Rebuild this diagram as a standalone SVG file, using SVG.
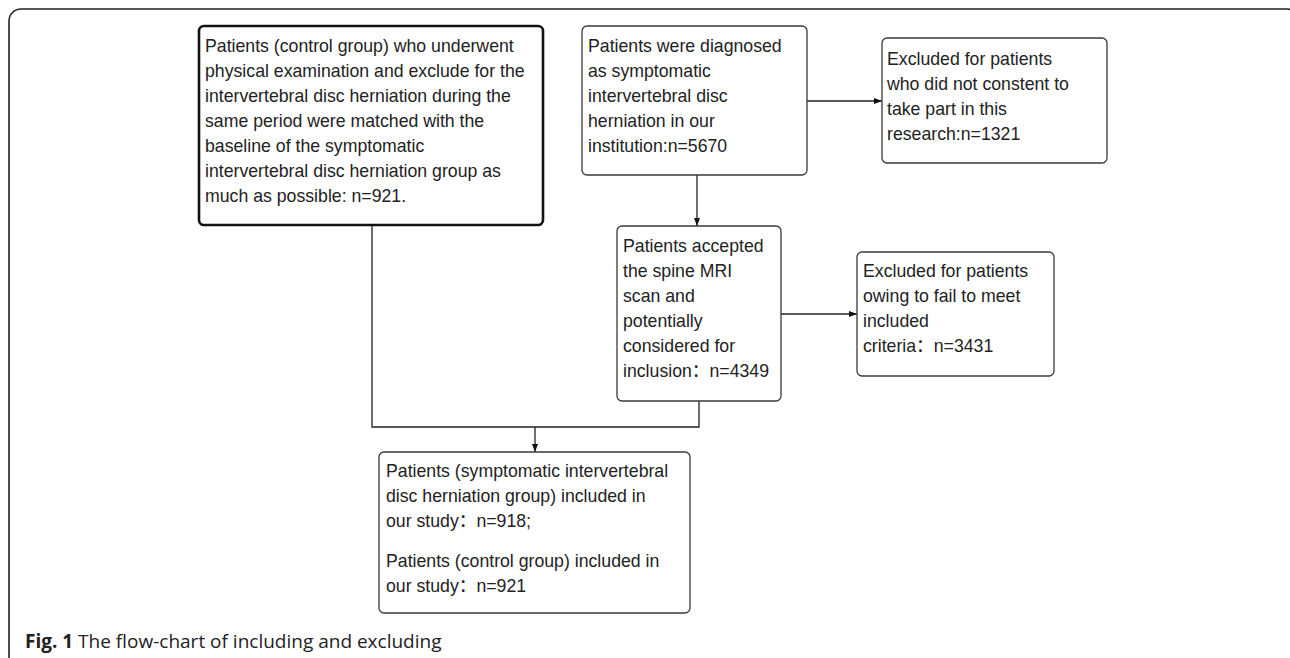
<svg xmlns="http://www.w3.org/2000/svg" width="1290" height="658" viewBox="0 0 1290 658">
<style>
.box{fill:#fff;stroke:#3a3a3a;stroke-width:1.3}
.thick{fill:#fff;stroke:#111;stroke-width:2.6}
.t{font-family:"Liberation Sans","Noto Sans CJK SC",Arial,sans-serif;font-size:17.7px;fill:#222}
.c{fill:none;stroke:#222;stroke-width:1.3}
.cap{font-family:"Open Sans","Noto Sans",sans-serif;font-size:19px;fill:#222}
</style>
<defs>
<marker id="ah" markerWidth="8" markerHeight="6" refX="8" refY="3" orient="auto" markerUnits="userSpaceOnUse">
<path d="M0,0 L8,3 L0,6 Z" fill="#111"/>
</marker>
</defs>
<rect x="9" y="9" width="1290" height="700" rx="12" fill="none" stroke="#222" stroke-width="1.6"/>
<g id="connectors">
<path class="c" d="M372,225 V427 H699 V401"/>
<path class="c" d="M535,427 V452" marker-end="url(#ah)"/>
<path class="c" d="M697,175 V226" marker-end="url(#ah)"/>
<path class="c" d="M807,101 H882" marker-end="url(#ah)"/>
<path class="c" d="M781,314 H857" marker-end="url(#ah)"/>
</g>
<g id="n1">
<rect class="thick" x="199" y="26" width="344" height="199" rx="5"/>
<text class="t"><tspan x="205" y="52">Patients (control group) who underwent</tspan><tspan x="205" y="77">physical examination and exclude for the</tspan><tspan x="205" y="102">intervertebral disc herniation during the</tspan><tspan x="205" y="127">same period were matched with the</tspan><tspan x="205" y="152">baseline of the symptomatic</tspan><tspan x="205" y="177">intervertebral disc herniation group as</tspan><tspan x="205" y="202">much as possible: n=921.</tspan></text>
</g>
<g id="n2">
<rect class="box" x="582" y="26" width="225" height="149" rx="5"/>
<text class="t"><tspan x="588" y="52">Patients were diagnosed</tspan><tspan x="588" y="77">as symptomatic</tspan><tspan x="588" y="102">intervertebral disc</tspan><tspan x="588" y="127">herniation in our</tspan><tspan x="588" y="152">institution:n=5670</tspan></text>
</g>
<g id="n3">
<rect class="box" x="882" y="38" width="225" height="125" rx="5"/>
<text class="t"><tspan x="887" y="65">Excluded for patients</tspan><tspan x="887" y="90">who did not constent to</tspan><tspan x="887" y="115">take part in this</tspan><tspan x="887" y="140">research:n=1321</tspan></text>
</g>
<g id="n4">
<rect class="box" x="617" y="226" width="164" height="175" rx="5"/>
<text class="t"><tspan x="623" y="252">Patients accepted</tspan><tspan x="623" y="277">the spine MRI</tspan><tspan x="623" y="302">scan and</tspan><tspan x="623" y="327">potentially</tspan><tspan x="623" y="352">considered for</tspan><tspan x="623" y="377">inclusion：n=4349</tspan></text>
</g>
<g id="n5">
<rect class="box" x="857" y="252" width="197" height="124" rx="5"/>
<text class="t"><tspan x="863" y="277">Excluded for patients</tspan><tspan x="863" y="302">owing to fail to meet</tspan><tspan x="863" y="327">included</tspan><tspan x="863" y="352">criteria：n=3431</tspan></text>
</g>
<g id="n6">
<rect class="box" x="379" y="452" width="311" height="161" rx="5"/>
<text class="t"><tspan x="386" y="477">Patients (symptomatic intervertebral</tspan><tspan x="386" y="502">disc herniation group) included in</tspan><tspan x="386" y="527">our study：n=918;</tspan><tspan x="386" y="567">Patients (control group) included in</tspan><tspan x="386" y="592">our study：n=921</tspan></text>
</g>
<text class="cap" x="25" y="648"><tspan font-weight="bold">Fig. 1</tspan> The flow-chart of including and excluding</text>
</svg>
